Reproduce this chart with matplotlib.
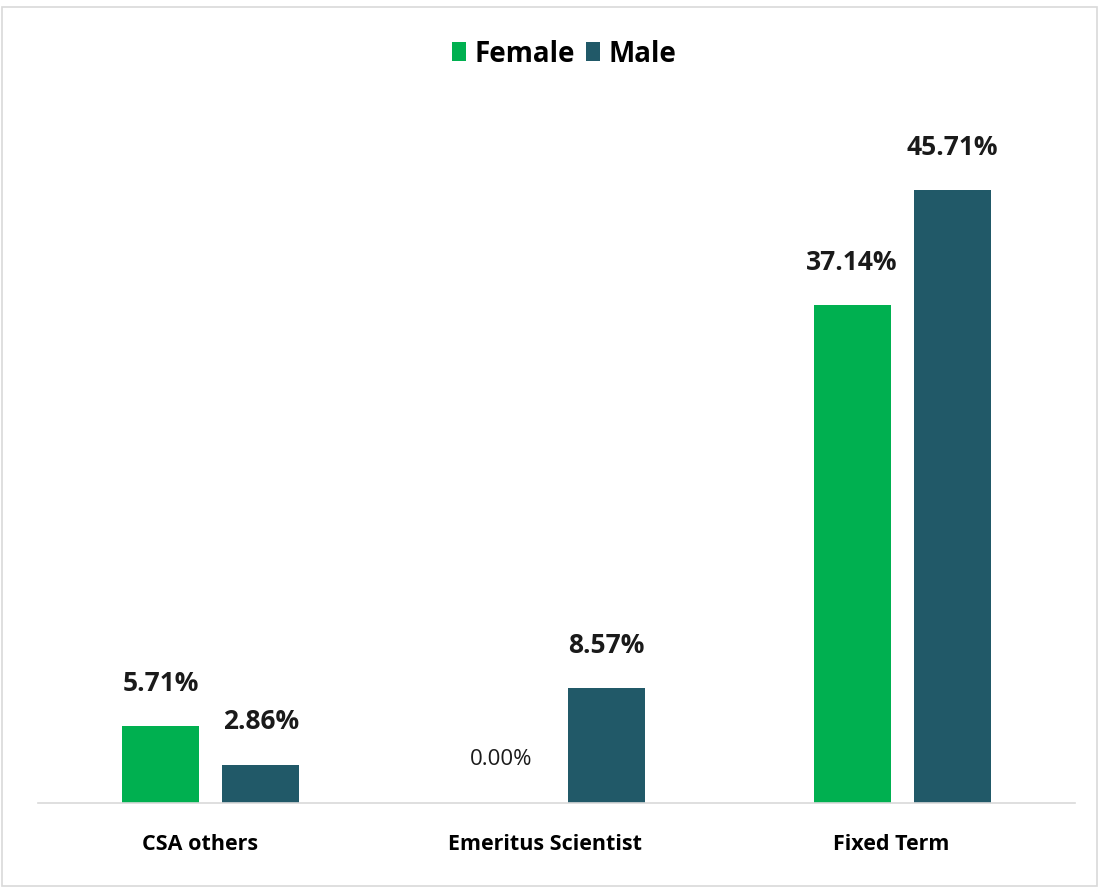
import matplotlib.pyplot as plt
import matplotlib.transforms as mtransforms
import numpy as np
from matplotlib.patches import Rectangle

categories = ['CSA others', 'Emeritus Scientist', 'Fixed Term']
female = [5.71, 0.00, 37.14]
male = [2.86, 8.57, 45.71]

plt.rcParams['font.family'] = ['Open Sans', 'DejaVu Sans']

fig = plt.figure(figsize=(10.99, 8.88), dpi=100)
# frame around the chart area
fig.patches.append(Rectangle((2 / 1099, 2 / 888), 1095 / 1099, 879 / 888,
                             transform=fig.transFigure, fill=False,
                             edgecolor='#d9d9d9', linewidth=1.2))

ax = fig.add_axes([38 / 1099, 1 - 803 / 888, 1037 / 1099, 670 / 888])
x = np.arange(len(categories))
off = 0.145
w = 0.223
b1 = ax.bar(x - off, female, w, color='#00b050', label='Female')
b2 = ax.bar(x + off, male, w, color='#215968', label='Male')

for bars, vals in [(b1, female), (b2, male)]:
    for bar, v in zip(bars, vals):
        bold = v > 0
        ax.annotate(f'{v:.2f}%', (bar.get_x() + bar.get_width() / 2, v),
                    xytext=(0 if bold else -4, 31), textcoords='offset points',
                    ha='center', va='center',
                    fontsize=19 if bold else 16,
                    fontweight='bold' if bold else 'normal', color='#1a1a1a')

ax.set_xlim(-0.5, 2.5)
ax.set_ylim(0, 50)
ax.set_yticks([])
ax.set_xticks(x)
ax.set_xticklabels(categories, fontsize=15.5, fontweight='bold')
ax.tick_params(axis='x', length=0, pad=22.5)
# category names sit a little left of the group centres
shift = mtransforms.ScaledTranslation(-11 / 100, 0, fig.dpi_scale_trans)
for lbl in ax.get_xticklabels():
    lbl.set_transform(lbl.get_transform() + shift)
for s in ['top', 'right', 'left']:
    ax.spines[s].set_visible(False)
ax.spines['bottom'].set_color('#d9d9d9')
ax.spines['bottom'].set_linewidth(1.2)

fig.legend(loc='center', bbox_to_anchor=(564 / 1099, 1 - 54 / 888), ncol=2,
           frameon=False, prop={'size': 20, 'weight': 'bold'},
           handlelength=0.5, handleheight=0.65, handletextpad=0.3,
           columnspacing=0.4)

fig.savefig('out.png', dpi=100, facecolor='white')
